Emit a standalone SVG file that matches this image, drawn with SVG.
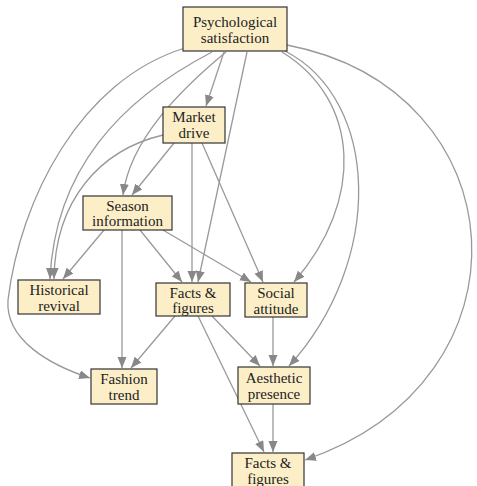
<svg xmlns="http://www.w3.org/2000/svg" width="477" height="486" viewBox="0 0 477 486">
<style>
.box{fill:#fcefc8;stroke:#333;stroke-width:1.2}
.lbl{font-family:"Liberation Serif",serif;font-size:15px;fill:#222;text-anchor:middle}
.e{fill:none;stroke:#999;stroke-width:1.3;marker-end:url(#ah)}
</style>
<defs>
<marker id="ah" markerUnits="userSpaceOnUse" markerWidth="12" markerHeight="10" refX="11" refY="4.5" orient="auto">
<path d="M0,0 L11,4.5 L0,9 Z" fill="#888"/>
</marker>
</defs>
<rect width="477" height="486" fill="#fff"/>
<g id="connectors">
<path class="e" d="M224 52 L206 106"/>
<path class="e" d="M226 52 C180 90,130 140,123 195"/>
<path class="e" d="M212 52 C120 100,55 170,50 279"/>
<path class="e" d="M185 48 C80 80,20 200,8 300 C5 340,50 365,90 378"/>
<path class="e" d="M247 52 L198 282"/>
<path class="e" d="M282 52 C360 100,365 200,294 282"/>
<path class="e" d="M285 51 C380 100,385 260,289 366"/>
<path class="e" d="M287 45 C520 90,540 380,305 460"/>
<path class="e" d="M174 143 L132 195"/>
<path class="e" d="M163 135 C100 150,55 200,54 279"/>
<path class="e" d="M192 143 L192 282"/>
<path class="e" d="M202 143 L263 282"/>
<path class="e" d="M104 230 L63 279"/>
<path class="e" d="M140 230 L182 282"/>
<path class="e" d="M163 230 L251 282"/>
<path class="e" d="M122 230 L122 368"/>
<path class="e" d="M175 316 L131 368"/>
<path class="e" d="M212 316 L260 366"/>
<path class="e" d="M198 316 L264 452"/>
<path class="e" d="M273 317 L273 366"/>
<path class="e" d="M273 404 L273 452"/>
</g>
<g id="psychological-satisfaction"><rect class="box" x="183" y="7" width="104" height="44"/><text class="lbl" x="235" y="27">Psychological</text><text class="lbl" x="235" y="43">satisfaction</text></g>
<g id="market-drive"><rect class="box" x="163" y="107" width="62" height="36"/><text class="lbl" x="194" y="122">Market</text><text class="lbl" x="194" y="138">drive</text></g>
<g id="season-information"><rect class="box" x="83" y="196" width="89" height="34"/><text class="lbl" x="127.5" y="211">Season</text><text class="lbl" x="127.5" y="226">information</text></g>
<g id="historical-revival"><rect class="box" x="18" y="280" width="82" height="34"/><text class="lbl" x="59" y="295">Historical</text><text class="lbl" x="59" y="311">revival</text></g>
<g id="facts-figures-1"><rect class="box" x="156" y="283" width="74" height="33"/><text class="lbl" x="193" y="298">Facts &amp;</text><text class="lbl" x="193" y="313">figures</text></g>
<g id="social-attitude"><rect class="box" x="245" y="283" width="62" height="34"/><text class="lbl" x="276" y="298">Social</text><text class="lbl" x="276" y="314">attitude</text></g>
<g id="fashion-trend"><rect class="box" x="91" y="369" width="66" height="35"/><text class="lbl" x="124" y="384">Fashion</text><text class="lbl" x="124" y="400">trend</text></g>
<g id="aesthetic-presence"><rect class="box" x="238" y="367" width="72" height="37"/><text class="lbl" x="274" y="383">Aesthetic</text><text class="lbl" x="274" y="399">presence</text></g>
<g id="facts-figures-2"><rect class="box" x="232" y="453" width="72" height="40"/><text class="lbl" x="268" y="468">Facts &amp;</text><text class="lbl" x="268" y="484">figures</text></g>
</svg>
